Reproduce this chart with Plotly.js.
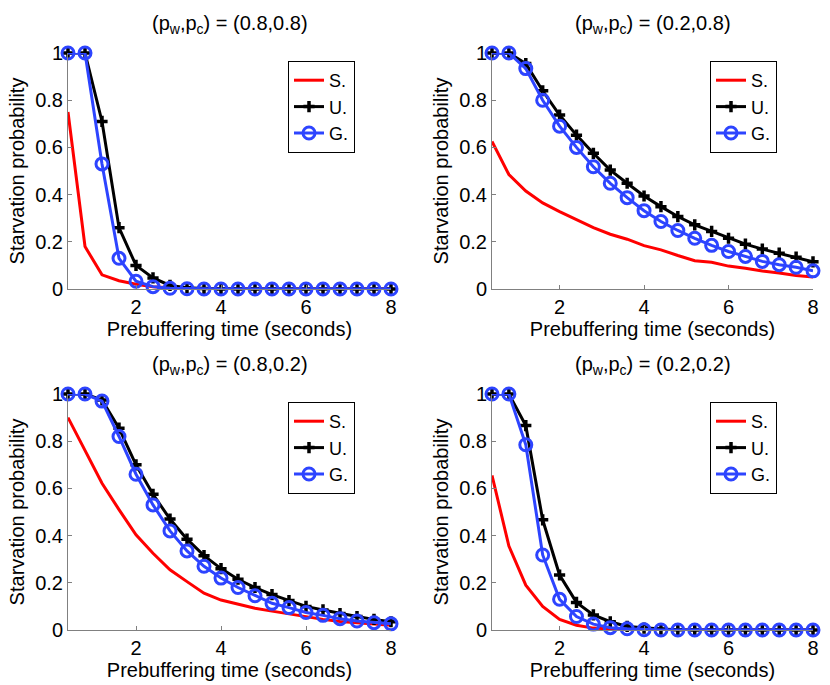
<!DOCTYPE html>
<html>
<head>
<meta charset="utf-8">
<script src="https://cdn.plot.ly/plotly-3.0.1.min.js"></script>
<style>html,body{margin:0;padding:0;background:#fff;}#chart{width:830px;height:685px;}</style>
</head>
<body>
<div id="chart"></div>
<script>
// Prebuffering time (seconds)
const prebuffer = [0.4,0.8,1.2,1.6,2.0,2.4,2.8,3.2,3.6,4.0,4.4,4.8,5.2,5.6,6.0,6.4,6.8,7.2,7.6,8.0];

// Panel titles
const panelTitles = [
  "(p<sub>w</sub>,p<sub>c</sub>) = (0.8,0.8)",
  "(p<sub>w</sub>,p<sub>c</sub>) = (0.2,0.8)",
  "(p<sub>w</sub>,p<sub>c</sub>) = (0.8,0.2)",
  "(p<sub>w</sub>,p<sub>c</sub>) = (0.2,0.2)"
];
const seriesNames = ["S.", "U.", "G."];
const xTicks = [2,4,6,8];
const yTicks = [0,0.2,0.4,0.6,0.8,1];
const yTickText = ["0","0.2","0.4","0.6","0.8","1"];

// Panel 1: (0.8,0.8)
const s_88 = [0.75,0.18,0.06,0.035,0.02,0.01,0.005,0.002,0,0,0,0,0,0,0,0,0,0,0,0];
const u_88 = [1,1,0.71,0.26,0.10,0.047,0.015,0.005,0.002,0,0,0,0,0,0,0,0,0,0,0];
const g_88 = [1,1,0.53,0.13,0.033,0.01,0.003,0.001,0,0,0,0,0,0,0,0,0,0,0,0];

// Panel 2: (0.2,0.8)
const s_28 = [0.625,0.485,0.415,0.365,0.328,0.293,0.26,0.232,0.211,0.184,0.166,0.142,0.12,0.113,0.097,0.088,0.076,0.068,0.057,0.051];
const u_28 = [1,1,0.955,0.84,0.737,0.652,0.575,0.504,0.448,0.394,0.349,0.307,0.272,0.244,0.215,0.19,0.169,0.152,0.135,0.115];
const g_28 = [1,1,0.934,0.80,0.69,0.60,0.518,0.448,0.387,0.332,0.286,0.248,0.215,0.185,0.159,0.138,0.117,0.103,0.092,0.077];

// Panel 3: (0.8,0.2)
const s_82 = [0.90,0.76,0.622,0.51,0.403,0.325,0.255,0.205,0.156,0.127,0.108,0.092,0.08,0.068,0.055,0.045,0.036,0.03,0.025,0.02];
const u_82 = [1,1,0.975,0.855,0.70,0.575,0.47,0.385,0.315,0.26,0.215,0.18,0.15,0.125,0.10,0.085,0.07,0.057,0.045,0.035];
const g_82 = [1,1,0.97,0.82,0.66,0.53,0.42,0.335,0.27,0.22,0.18,0.145,0.113,0.095,0.074,0.062,0.048,0.038,0.031,0.026];

// Panel 4: (0.2,0.2)
const s_22 = [0.655,0.356,0.19,0.10,0.045,0.02,0.008,0.003,0.001,0,0,0,0,0,0,0,0,0,0,0];
const u_22 = [1,1,0.866,0.467,0.233,0.117,0.064,0.035,0.015,0.008,0.004,0.001,0,0,0,0,0,0,0,0];
const g_22 = [1,1,0.785,0.318,0.13,0.057,0.025,0.01,0.005,0.001,0,0,0,0,0,0,0,0,0,0];

const panels = [
  {s: s_88, u: u_88, g: g_88},
  {s: s_28, u: u_28, g: g_28},
  {s: s_82, u: u_82, g: g_82},
  {s: s_22, u: u_22, g: g_22}
];

const RED = "#ff0000", BLACK = "#000000", BLUE = "#2d44ff";
const FONT = "Liberation Sans, Arial, Helvetica, sans-serif";

const traces = [];
panels.forEach((p, i) => {
  const ax = i === 0 ? "" : String(i + 1);
  const lg = i === 0 ? "legend" : "legend" + (i + 1);
  traces.push({
    x: prebuffer, y: p.s, name: seriesNames[0], type: "scatter", mode: "lines",
    xaxis: "x" + ax, yaxis: "y" + ax, legend: lg, cliponaxis: false,
    line: {color: RED, width: 3}
  });
  traces.push({
    x: prebuffer, y: p.u, name: seriesNames[1], type: "scatter", mode: "lines+markers",
    xaxis: "x" + ax, yaxis: "y" + ax, legend: lg, cliponaxis: false,
    line: {color: BLACK, width: 3},
    marker: {symbol: "cross-thin", size: 8, color: BLACK, line: {color: BLACK, width: 3.5}}
  });
  traces.push({
    x: prebuffer, y: p.g, name: seriesNames[2], type: "scatter", mode: "lines+markers",
    xaxis: "x" + ax, yaxis: "y" + ax, legend: lg, cliponaxis: false,
    line: {color: BLUE, width: 3},
    marker: {symbol: "circle-open", size: 12, color: BLUE, line: {color: BLUE, width: 3}}
  });
});

const W = 830, H = 685;
const colX = [[68, 391], [492, 813]];
const rowY = [[53, 289], [394, 630]];

function xAxis(dom, anchor) {
  return {
    domain: dom, anchor: anchor, range: [0.4, 8], tickvals: xTicks,
    showgrid: false, zeroline: false, showline: true, linecolor: "#808080", linewidth: 1,
    ticks: "inside", ticklen: 4, tickcolor: "#808080",
    tickfont: {family: FONT, size: 20, color: "#000"},
    title: {text: "Prebuffering time (seconds)", font: {family: FONT, size: 20, color: "#000"}, standoff: 3},
    fixedrange: true
  };
}
function yAxis(dom, anchor) {
  return {
    domain: dom, anchor: anchor, range: [0, 1], tickvals: yTicks, ticktext: yTickText,
    showgrid: false, zeroline: false, showline: true, linecolor: "#808080", linewidth: 1,
    ticks: "inside", ticklen: 4, tickcolor: "#808080",
    tickfont: {family: FONT, size: 20, color: "#000"},
    title: {text: "Starvation probability", font: {family: FONT, size: 20, color: "#000"}, standoff: 5},
    fixedrange: true
  };
}

const layout = {
  width: W, height: H,
  margin: {l: 0, r: 0, t: 0, b: 0},
  paper_bgcolor: "#fff", plot_bgcolor: "rgba(0,0,0,0)",
  font: {family: FONT, size: 20, color: "#000"},
  showlegend: true,
  annotations: []
};

for (let i = 0; i < 4; i++) {
  const c = i % 2, r = Math.floor(i / 2);
  const ax = i === 0 ? "" : String(i + 1);
  const xd = [colX[c][0] / W, colX[c][1] / W];
  const yd = [1 - rowY[r][1] / H, 1 - rowY[r][0] / H];
  layout["xaxis" + ax] = xAxis(xd, "y" + ax);
  layout["yaxis" + ax] = yAxis(yd, "x" + ax);
  const lg = i === 0 ? "legend" : "legend" + (i + 1);
  layout[lg] = {
    x: (colX[c][1] - 103) / W, y: 1 - (rowY[r][0] + 8) / H,
    xanchor: "left", yanchor: "top",
    bgcolor: "#fff", bordercolor: "#000", borderwidth: 1,
    font: {family: FONT, size: 18, color: "#000"},
    tracegroupgap: 0, itemclick: false, itemdoubleclick: false
  };
  layout.annotations.push({
    text: panelTitles[i], xref: "paper", yref: "paper",
    x: (colX[c][0] + colX[c][1]) / 2 / W, y: 1 - (rowY[r][0] - 29) / H,
    xanchor: "center", yanchor: "middle", showarrow: false,
    font: {family: FONT, size: 20, color: "#000"}
  });
}

Plotly.newPlot("chart", traces, layout, {displayModeBar: false, staticPlot: true});
</script>
</body>
</html>
